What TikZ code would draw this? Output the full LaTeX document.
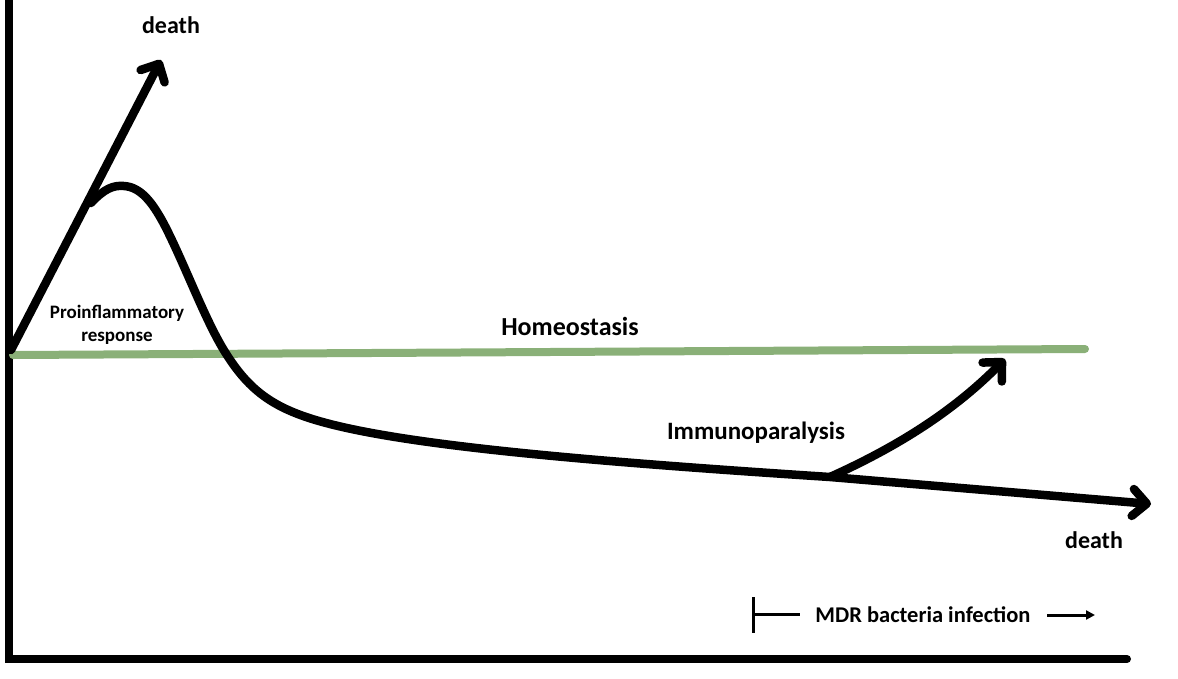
\documentclass[tikz,border=0pt]{standalone}
\usepackage{fontspec}
\setmainfont{Carlito}
\usetikzlibrary{arrows.meta}
\definecolor{homeo}{HTML}{8AB078}
\tikzset{
  lbl/.style={font=\bfseries, inner sep=0pt},
  thick curve/.style={line width=8.5pt, line cap=round, line join=round},
  bigtip/.style={-{Straight Barb[length=14pt,width=27pt,round]}},
  thin line/.style={line width=3pt}
}
\begin{document}
\begin{tikzpicture}[x=1pt,y=-1pt]
\useasboundingbox (0,0) rectangle (1178,678);
% coordinates
\coordinate (ytop) at (9,0);
\coordinate (origin) at (9,659);
\coordinate (xend) at (1127,659);
\coordinate (hl) at (13,355);
\coordinate (hr) at (1085,349);
\coordinate (dstart) at (11,350);
\coordinate (dtip) at (161,60);
\coordinate (cstart) at (91,203);
\coordinate (cpeak) at (124,186);
\coordinate (cdown) at (165,226);
\coordinate (ccross) at (225,352);
\coordinate (cknee) at (330,424);
\coordinate (branch) at (830,477);
\coordinate (ctip) at (1151,504);
\coordinate (itip) at (1005,359);
% axes
\draw[line width=8pt, line cap=round] (ytop) -- (origin) -- (xend);
% homeostasis line
\draw[homeo, line width=8pt, line cap=round] (hl) -- (hr);
% death arrow up
\draw[thick curve, bigtip] (dstart) -- (dtip);
% main curve
\draw[thick curve, bigtip] (cstart) .. controls (104,189) and (113,185) .. (cpeak)
  .. controls (140,187) and (152,201) .. (cdown)
  .. controls (185,265) and (205,320) .. (ccross)
  .. controls (250,392) and (275,410) .. (cknee)
  .. controls (420,447) and (600,462) .. (branch) -- (ctip);
% immunoparalysis arrow
\draw[thick curve, bigtip] (branch) .. controls (890,450) and (950,415) .. (itip);
% labels
\node[lbl, font=\bfseries\fontsize{24}{28}\selectfont] (d1) at (171,25) {death};
\node[lbl, font=\bfseries\fontsize{24}{28}\selectfont] (d2) at (1094,540) {death};
\node[lbl, align=center, font=\bfseries\fontsize{19}{23}\selectfont] (pro) at (117,325) {Proinflammatory\\response};
\node[lbl, font=\bfseries\fontsize{26}{30}\selectfont] (homeo) at (570,326) {Homeostasis};
\node[lbl, font=\bfseries\fontsize{25}{29}\selectfont] (imm) at (756,433) {Immunoparalysis};
\node[lbl, font=\bfseries\fontsize{22.5}{27}\selectfont] (mdr) at (923,615) {MDR bacteria infection};
% MDR bracket and arrow
\coordinate (tb) at (753,597);
\coordinate (tt) at (753,633);
\coordinate (tm) at (753,614);
\coordinate (te) at (800,614);
\coordinate (as) at (1047,615);
\coordinate (ae) at (1095,615);
\draw[thin line] (tb) -- (tt);
\draw[thin line] (tm) -- (te);
\draw[thin line, -{Triangle[length=9pt,width=9pt]}] (as) -- (ae);
\end{tikzpicture}
\end{document}
